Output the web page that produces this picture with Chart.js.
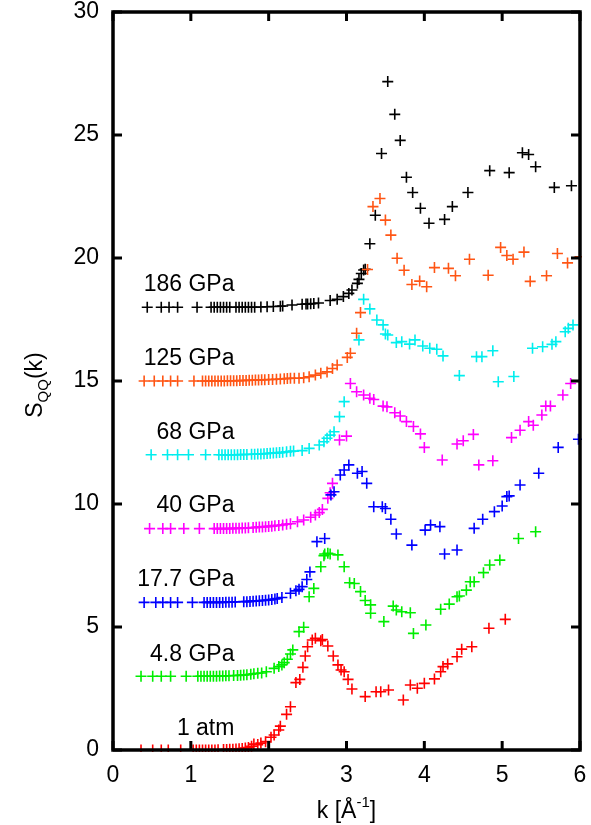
<!DOCTYPE html>
<html>
<head>
<meta charset="utf-8">
<script src="https://cdn.jsdelivr.net/npm/chart.js@4.4.1/dist/chart.umd.min.js"></script>
<style>
  html, body { margin: 0; padding: 0; background: #fff; }
</style>
</head>
<body>
<canvas id="sqq" width="591" height="825"></canvas>
<script>
// S_QQ(k) curves, each pressure shifted up by 3 ; pairs are [k, S]
const atm1 = [[0.36,0],[0.51,0],[0.62,0],[0.71,0],[0.87,0],[1.03,0],[1.07,0],[1.11,0],[1.15,0],[1.19,0],[1.23,0],[1.27,0],[1.31,0],[1.35,0.01],[1.42,0.02],[1.46,0.02],[1.50,0.03],[1.54,0.03],[1.58,0.04],[1.62,0.05],[1.66,0.06],[1.70,0.08],[1.74,0.1],[1.78,0.15],[1.81,0.24],[1.86,0.22],[1.90,0.28],[1.96,0.34],[2.03,0.52],[2.07,0.61],[2.13,0.81],[2.15,0.97],[2.23,1.45],[2.28,1.76],[2.35,2.74],[2.40,2.87],[2.44,3.36],[2.47,3.82],[2.50,4.2],[2.56,4.47],[2.60,4.54],[2.67,4.44],[2.69,4.49],[2.76,4.23],[2.83,3.82],[2.89,3.46],[2.93,3.25],[2.97,3.18],[3.02,2.87],[3.07,2.48],[3.24,2.17],[3.38,2.37],[3.44,2.37],[3.54,2.44],[3.73,2.03],[3.82,2.64],[3.91,2.51],[4.0,2.71],[4.13,2.89],[4.21,3.18],[4.24,3.39],[4.30,3.50],[4.42,3.79],[4.48,4.1],[4.61,4.2],[4.83,4.95],[5.04,5.31]];
const gpa4_8 = [[0.36,3],[0.51,3],[0.62,3],[0.74,3],[0.94,3],[1.09,3],[1.13,3],[1.17,3],[1.21,3],[1.25,3],[1.29,3],[1.33,3],[1.37,3.01],[1.41,3.01],[1.45,3.02],[1.49,3.02],[1.55,3.03],[1.60,3.03],[1.64,3.04],[1.68,3.05],[1.72,3.06],[1.77,3.08],[1.81,3.1],[1.86,3.12],[1.91,3.13],[1.97,3.18],[2.07,3.32],[2.13,3.39],[2.17,3.46],[2.20,3.55],[2.24,3.69],[2.28,3.9],[2.31,4.07],[2.39,4.81],[2.45,4.99],[2.52,6.23],[2.58,6.57],[2.67,7.45],[2.71,7.9],[2.72,7.97],[2.76,8.0],[2.79,7.97],[2.89,7.93],[2.97,7.45],[3.04,6.8],[3.10,6.77],[3.18,6.44],[3.24,6.08],[3.31,5.9],[3.31,5.56],[3.48,5.22],[3.60,5.85],[3.64,5.69],[3.71,5.62],[3.82,5.58],[3.86,4.74],[4.02,5.08],[4.21,5.72],[4.32,5.93],[4.42,6.23],[4.45,6.26],[4.54,6.5],[4.59,6.84],[4.64,6.84],[4.76,7.21],[4.84,7.52],[4.97,7.72],[5.21,8.6],[5.43,8.87]];
const gpa17_7 = [[0.40,6],[0.55,6],[0.64,6],[0.74,6],[0.83,6],[1.02,6],[1.17,6],[1.21,6],[1.25,6],[1.29,6],[1.33,6],[1.37,6],[1.41,6],[1.45,6.01],[1.49,6.01],[1.53,6.01],[1.57,6.02],[1.68,6.03],[1.72,6.03],[1.76,6.04],[1.80,6.05],[1.84,6.06],[1.88,6.07],[1.92,6.08],[1.96,6.09],[2.00,6.1],[2.04,6.12],[2.08,6.14],[2.11,6.16],[2.17,6.2],[2.28,6.37],[2.35,6.47],[2.39,6.53],[2.43,6.64],[2.49,6.93],[2.53,7.24],[2.62,8.47],[2.72,8.6],[2.80,10.37],[2.84,10.5],[2.92,11.18],[2.97,11.38],[3.03,11.59],[3.14,11.25],[3.20,11.32],[3.26,10.84],[3.35,9.89],[3.46,9.89],[3.50,9.82],[3.57,9.38],[3.64,8.78],[3.84,8.33],[4.01,8.94],[4.08,9.15],[4.20,9.08],[4.26,7.97],[4.42,8.13],[4.64,9.01],[4.75,9.38],[4.90,9.69],[5.0,9.92],[5.06,10.3],[5.09,10.33],[5.23,10.77],[5.47,11.25],[5.72,12.3],[5.98,12.63]];
const gpa40 = [[0.47,9],[0.64,9],[0.74,9],[0.91,9],[1.11,9],[1.30,9],[1.34,9],[1.38,9],[1.42,9],[1.46,9],[1.50,9],[1.54,9.01],[1.58,9.01],[1.62,9.01],[1.66,9.02],[1.70,9.02],[1.74,9.03],[1.80,9.04],[1.84,9.05],[1.88,9.06],[1.92,9.07],[1.96,9.08],[2.00,9.09],[2.04,9.1],[2.08,9.12],[2.13,9.13],[2.18,9.15],[2.23,9.18],[2.28,9.2],[2.37,9.28],[2.45,9.35],[2.54,9.46],[2.60,9.55],[2.65,9.65],[2.69,9.78],[2.76,10.23],[2.79,10.46],[2.82,10.84],[2.91,12.6],[3.0,12.76],[3.05,14.9],[3.13,14.56],[3.22,14.43],[3.30,14.3],[3.35,14.25],[3.47,13.98],[3.52,13.95],[3.62,13.71],[3.69,13.58],[3.77,13.35],[3.86,13.15],[3.95,12.85],[4.0,12.3],[4.23,11.79],[4.42,12.44],[4.50,12.57],[4.63,12.83],[4.70,11.59],[4.88,11.76],[5.12,12.7],[5.23,13.0],[5.34,13.35],[5.40,13.2],[5.51,13.62],[5.56,13.98],[5.62,13.98],[5.78,14.43],[5.88,14.9]];
const gpa68 = [[0.49,12],[0.70,12],[0.83,12],[0.97,12],[1.19,12],[1.36,12],[1.40,12],[1.44,12],[1.48,12],[1.52,12],[1.56,12],[1.60,12],[1.64,12.01],[1.68,12.01],[1.72,12.01],[1.78,12.02],[1.82,12.02],[1.86,12.03],[1.90,12.03],[1.94,12.04],[1.98,12.05],[2.02,12.06],[2.06,12.07],[2.10,12.08],[2.14,12.09],[2.18,12.1],[2.23,12.12],[2.28,12.14],[2.32,12.15],[2.43,12.17],[2.52,12.26],[2.65,12.4],[2.71,12.53],[2.75,12.67],[2.79,12.8],[2.84,12.94],[2.91,13.55],[2.97,14.16],[3.16,16.67],[3.22,18.32],[3.30,17.93],[3.39,17.48],[3.47,17.28],[3.50,16.91],[3.53,16.87],[3.64,16.56],[3.71,16.6],[3.81,16.5],[3.88,16.67],[3.98,16.42],[4.07,16.33],[4.16,16.29],[4.24,16.02],[4.45,15.22],[4.67,15.99],[4.74,15.99],[4.88,16.23],[4.95,14.97],[5.15,15.18],[5.39,16.33],[5.52,16.39],[5.64,16.49],[5.69,16.6],[5.81,17.0],[5.85,17.14],[5.91,17.28]];
const gpa125 = [[0.40,15],[0.53,15],[0.64,15],[0.74,15],[0.83,15],[1.04,15],[1.15,15],[1.19,15],[1.23,15],[1.27,15],[1.31,15],[1.35,15],[1.39,15],[1.43,15],[1.47,15.01],[1.51,15.01],[1.55,15.01],[1.59,15.01],[1.63,15.02],[1.67,15.02],[1.71,15.02],[1.75,15.03],[1.79,15.03],[1.83,15.04],[1.87,15.04],[1.91,15.05],[1.95,15.05],[2.00,15.06],[2.05,15.06],[2.10,15.07],[2.15,15.08],[2.20,15.09],[2.24,15.1],[2.28,15.11],[2.33,15.11],[2.39,15.11],[2.45,15.13],[2.52,15.17],[2.60,15.24],[2.67,15.31],[2.75,15.37],[2.82,15.51],[2.88,15.65],[3.01,15.96],[3.05,16.13],[3.13,16.94],[3.18,17.78],[3.27,19.53],[3.34,22.09],[3.43,22.42],[3.50,21.54],[3.57,20.93],[3.65,19.99],[3.74,19.5],[3.84,18.92],[3.94,19.06],[4.03,18.83],[4.13,19.61],[4.31,19.58],[4.40,19.28],[4.58,19.95],[4.82,19.3],[4.98,20.43],[5.06,20.1],[5.14,19.95],[5.28,20.24],[5.36,19.05],[5.57,19.28],[5.71,20.18],[5.84,19.8],[6.0,20.05]];
const gpa186 = [[0.44,18],[0.62,18],[0.72,18],[0.83,18],[1.08,18],[1.26,18],[1.30,18],[1.34,18],[1.38,18],[1.42,18],[1.46,18],[1.50,18],[1.58,18],[1.62,18],[1.66,18],[1.70,18],[1.74,18],[1.78,18],[1.82,18],[1.90,18.01],[1.98,18.02],[2.06,18.03],[2.15,18.04],[2.18,18.05],[2.30,18.09],[2.43,18.12],[2.48,18.13],[2.50,18.13],[2.54,18.14],[2.58,18.15],[2.64,18.17],[2.79,18.27],[2.88,18.32],[2.96,18.43],[3.03,18.56],[3.07,18.7],[3.14,18.97],[3.16,19.13],[3.19,19.37],[3.22,19.51],[3.24,19.54],[3.30,20.58],[3.37,21.74],[3.45,24.25],[3.53,27.17],[3.62,25.84],[3.69,24.78],[3.77,23.28],[3.85,22.66],[3.95,22.02],[4.06,21.41],[4.26,21.57],[4.36,22.09],[4.56,22.66],[4.84,23.55],[5.09,23.47],[5.26,24.28],[5.34,24.21],[5.43,23.71],[5.67,22.87],[5.89,22.94]];

const seriesNames = ['1 atm', '4.8 GPa', '17.7 GPa', '40 GPa', '68 GPa', '125 GPa', '186 GPa'];
const seriesData = [atm1, gpa4_8, gpa17_7, gpa40, gpa68, gpa125, gpa186];
const seriesColors = ['#ff0000', '#00ee00', '#0000ff', '#ff00ff', '#00eeee', '#ff5514', '#000000'];
// where each name sits (right edge k, baseline S)
const labelK = [1.56, 1.56, 1.56, 1.56, 1.56, 1.56, 1.56];
const labelS = [0.59, 3.63, 6.67, 9.67, 12.63, 15.65, 18.67];

const xTicks = [0, 1, 2, 3, 4, 5, 6];
const yTicks = [0, 5, 10, 15, 20, 25, 30];

const FONT = "'Liberation Sans', Arial, Helvetica, sans-serif";
Chart.defaults.font.family = FONT;
Chart.defaults.color = '#000';

const framePlugin = {
  id: 'frame',
  afterDraw(chart) {
    const { ctx, chartArea: a, scales } = chart;
    const x = scales.x, y = scales.y;
    ctx.save();
    ctx.strokeStyle = '#000';
    ctx.lineWidth = 3;
    ctx.beginPath();
    xTicks.forEach(v => {
      const px = x.getPixelForValue(v);
      ctx.moveTo(px, a.bottom); ctx.lineTo(px, a.bottom - 9);
      ctx.moveTo(px, a.top); ctx.lineTo(px, a.top + 9);
    });
    yTicks.forEach(v => {
      const py = y.getPixelForValue(v);
      ctx.moveTo(a.left, py); ctx.lineTo(a.left + 9, py);
      ctx.moveTo(a.right, py); ctx.lineTo(a.right - 9, py);
    });
    ctx.stroke();
    ctx.lineWidth = 3.5;
    ctx.strokeRect(a.left, a.top, a.right - a.left, a.bottom - a.top);

    // pressure labels
    ctx.fillStyle = '#000';
    ctx.font = '23px ' + FONT;
    ctx.textAlign = 'right';
    ctx.textBaseline = 'alphabetic';
    seriesNames.forEach((name, i) => {
      ctx.fillText(name, x.getPixelForValue(labelK[i]), y.getPixelForValue(labelS[i]));
    });

    // x title: k [Å^-1]
    ctx.textAlign = 'left';
    const big = '23px ' + FONT, small = '15px ' + FONT;
    ctx.font = big;
    const p1 = 'k [Å', p3 = ']';
    const w1 = ctx.measureText(p1).width, w3 = ctx.measureText(p3).width;
    ctx.font = small;
    const w2 = ctx.measureText('-1').width;
    let cx = (a.left + a.right) / 2 - (w1 + w2 + w3) / 2;
    const base = 818;
    ctx.font = big; ctx.fillText(p1, cx, base); cx += w1;
    ctx.font = small; ctx.fillText('-1', cx, base - 11); cx += w2;
    ctx.font = big; ctx.fillText(p3, cx, base);

    // y title: S_QQ(k)
    ctx.translate(42, (a.top + a.bottom) / 2 + 4);
    ctx.rotate(-Math.PI / 2);
    ctx.font = big;
    const ws = ctx.measureText('S').width, wk = ctx.measureText('(k)').width;
    ctx.font = small;
    const wq = ctx.measureText('QQ').width;
    let ty = -(ws + wq + wk) / 2;
    ctx.font = big; ctx.fillText('S', ty, 0); ty += ws;
    ctx.font = small; ctx.fillText('QQ', ty, 6); ty += wq;
    ctx.font = big; ctx.fillText('(k)', ty, 0);
    ctx.restore();
  }
};

new Chart(document.getElementById('sqq'), {
  type: 'scatter',
  data: {
    datasets: seriesData.map((pts, i) => ({
      label: seriesNames[i],
      data: pts.map(p => ({ x: p[0], y: p[1] })),
      pointStyle: 'cross',
      pointRadius: 5.5,
      pointHoverRadius: 5.5,
      borderWidth: 1.6,
      borderColor: seriesColors[i],
      backgroundColor: seriesColors[i],
      showLine: false,
      clip: 2
    }))
  },
  options: {
    responsive: false,
    animation: false,
    layout: { padding: { left: 0, right: 11, top: 12, bottom: 0 } },
    plugins: { legend: { display: false }, tooltip: { enabled: false } },
    scales: {
      x: {
        type: 'linear', min: 0, max: 6,
        grid: { display: false, drawTicks: false },
        border: { display: false },
        ticks: { stepSize: 1, font: { size: 23 }, padding: 12, color: '#000' },
        afterFit: s => { s.height = 75; s.paddingLeft = 0; s.paddingRight = 0; }
      },
      y: {
        type: 'linear', min: 0, max: 30,
        grid: { display: false, drawTicks: false },
        border: { display: false },
        ticks: { stepSize: 5, font: { size: 23 }, padding: 14, color: '#000' },
        afterFit: s => { s.width = 113; s.paddingTop = 0; s.paddingBottom = 0; }
      }
    }
  },
  plugins: [framePlugin]
});
</script>
</body>
</html>
